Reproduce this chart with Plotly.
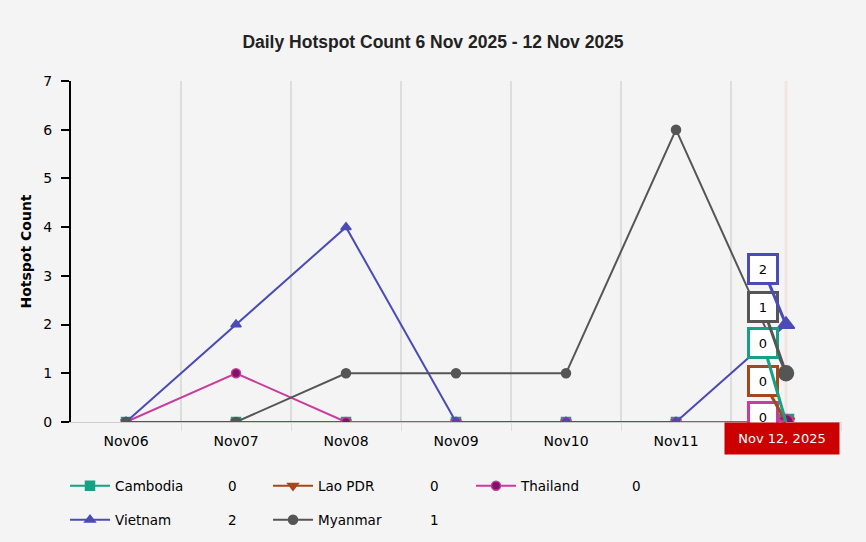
import plotly.graph_objects as go

# daily hotspot counts, 6 - 12 Nov 2025
days = ["Nov06", "Nov07", "Nov08", "Nov09", "Nov10", "Nov11", "Nov12"]
cambodia = [0, 0, 0, 0, 0, 0, 0]
lao_pdr = [0, 0, 0, 0, 0, 0, 0]
thailand = [0, 1, 0, 0, 0, 0, 0]
vietnam = [0, 2, 4, 0, 0, 0, 2]
myanmar = [0, 0, 1, 1, 1, 6, 1]
cursor_label = "Nov 12, 2025"

xs = list(range(len(days)))
last = len(days) - 1

series = [
    ("Cambodia", cambodia, "#17a084", "square", "#17a084"),
    ("Lao PDR", lao_pdr, "#a3481c", "triangle-down", "#a3481c"),
    ("Thailand", thailand, "#c83c9e", "circle", "#7e1464"),
    ("Vietnam", vietnam, "#4b4bb5", "triangle-up", "#4b4bb5"),
    ("Myanmar", myanmar, "#555555", "circle", "#555555"),
]

fig = go.Figure()
for i, (name, vals, col, sym, fill) in enumerate(series):
    lg = "legend" if i < 3 else "legend2"
    fig.add_trace(go.Scatter(
        x=xs, y=vals, name=name, mode="lines+markers", legend=lg,
        line=dict(color=col, width=2),
        marker=dict(symbol=sym, size=9, color=fill,
                    line=dict(color=col, width=1.5)),
    ))
# enlarged (hovered) bullets at the cursor
for name, vals, col, sym, fill in series:
    fig.add_trace(go.Scatter(
        x=[xs[last]], y=[vals[last]], mode="markers", showlegend=False,
        marker=dict(symbol=sym, size=15, color=fill,
                    line=dict(color=col, width=1.5)),
    ))

# hover balloons next to the cursor (offsets in px)
offsets = {"Vietnam": (-23, -56), "Myanmar": (-23, -66), "Cambodia": (-23, -79),
           "Lao PDR": (-23, -41), "Thailand": (-23, -5)}
annotations = []
for name in ["Thailand", "Lao PDR", "Cambodia", "Myanmar", "Vietnam"]:
    s = [t for t in series if t[0] == name][0]
    ax, ay = offsets[name]
    annotations.append(dict(
        x=last, y=s[1][last], xref="x", yref="y", text=str(s[1][last]),
        showarrow=True, arrowhead=0, arrowwidth=3, arrowcolor=s[2],
        axref="pixel", ayref="pixel", ax=ax, ay=ay, standoff=0,
        bgcolor="white", bordercolor=s[2], borderwidth=3, borderpad=2,
        width=22, height=22, font=dict(size=13, color="#000"),
    ))

# cursor category label
annotations.append(dict(
    x=last, y=0, xref="x", yref="y", text=cursor_label, showarrow=False,
    xshift=-4, yanchor="top", bgcolor="#cc0000", borderpad=4,
    width=106, height=23, font=dict(size=13, color="white"),
))

# legend values
for i, (name, vals, col, sym, fill) in enumerate(series):
    row, colno = divmod(i, 3)
    px = 226 + 202 * colno
    py = 486 + 34 * row
    annotations.append(dict(
        x=(px - 71) / 770, y=(422 - py) / 341, xref="paper", yref="paper",
        text=str(vals[last]), showarrow=False, xanchor="left", yanchor="middle",
        font=dict(size=13.5, color="#000"),
    ))

legend_style = dict(orientation="h", xref="container", yref="container",
                    xanchor="left", yanchor="middle", entrywidth=148,
                    itemwidth=40, bgcolor="rgba(0,0,0,0)", font=dict(size=13.5))

fig.update_layout(
    width=866, height=542,
    margin=dict(l=71, r=25, t=81, b=120),
    paper_bgcolor="#f4f4f4", plot_bgcolor="#f4f4f4",
    font=dict(family="Verdana, DejaVu Sans, sans-serif", size=13, color="#000"),
    title=dict(text="<b>Daily Hotspot Count 6 Nov 2025 - 12 Nov 2025</b>",
               x=0.5, xanchor="center", y=1 - 42 / 542, yanchor="middle",
               font=dict(family="Arial, Liberation Sans", size=17.5, color="#222")),
    showlegend=True,
    legend=dict(x=65 / 866, y=1 - 486 / 542, **legend_style),
    legend2=dict(x=65 / 866, y=1 - 520 / 542, **legend_style),
    annotations=annotations,
    shapes=[dict(type="line", x0=last, x1=last, xref="x", y0=0, y1=1,
                 yref="paper", line=dict(color="rgba(240,170,170,0.2)", width=3),
                 layer="below")],
    xaxis=dict(range=[-0.5, last + 0.5], tickvals=xs, ticktext=days,
               showgrid=False, zeroline=False, showline=True,
               linecolor="#cccccc", linewidth=1, ticks="",
               ticklabelstandoff=6,
               minor=dict(tickvals=[i + 0.5 for i in xs], showgrid=True,
                          gridcolor="#dddddd", gridwidth=1.5, ticks="outside",
                          ticklen=8, tickcolor="#dddddd"),
               tickfont=dict(size=14)),
    yaxis=dict(range=[0, 7], dtick=1, showgrid=False, zeroline=False,
               showline=True, linecolor="#000", linewidth=2,
               ticks="outside", ticklen=8, tickwidth=2, tickcolor="#000",
               ticklabelstandoff=6,
               title=dict(text="<b>Hotspot Count</b>", font=dict(size=14), standoff=8),
               tickfont=dict(size=14)),
)

# drop the default page margin so the figure fills the window
fig.write_html("out.html", config={"displayModeBar": False},
               post_script="document.body.style.margin='0px';")
